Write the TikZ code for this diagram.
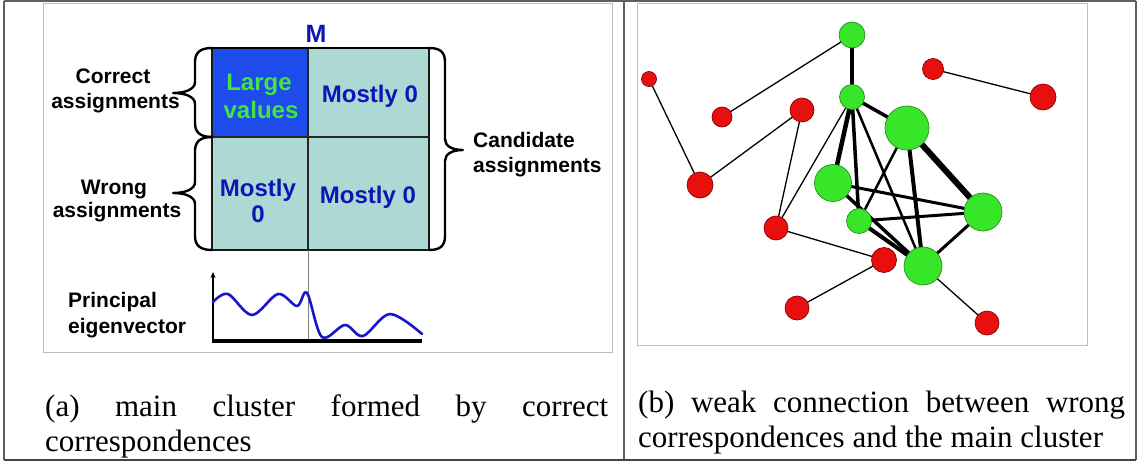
\documentclass[tikz,border=0pt]{standalone}
\usepackage{fontspec}
\setmainfont{Liberation Serif}
\setsansfont{Liberation Sans}
\usetikzlibrary{arrows.meta}
\pgfdeclarelayer{background}
\pgfsetlayers{background,main}
\definecolor{mblue}{RGB}{15,20,180}
\definecolor{cellblue}{RGB}{30,75,235}
\definecolor{cellteal}{RGB}{172,217,212}
\definecolor{lgreen}{RGB}{70,225,70}
\definecolor{gnode}{RGB}{55,230,40}
\definecolor{gline}{RGB}{40,140,30}
\definecolor{rnode}{RGB}{232,15,15}
\definecolor{rline}{RGB}{140,0,0}
\definecolor{framegray}{RGB}{190,190,190}
\definecolor{bordergray}{RGB}{95,95,95}
\definecolor{curveblue}{RGB}{25,20,205}
\begin{document}
\begin{tikzpicture}[x=1pt,y=-1pt,
  lab/.style={font=\sffamily\bfseries\fontsize{21}{25}\selectfont, inner sep=0pt, anchor=base},
  labw/.style={lab, anchor=base west},
  cell/.style={font=\sffamily\bfseries\fontsize{24}{28}\selectfont, inner sep=0pt, anchor=base, text=mblue},
  captext/.style={font=\fontsize{31}{35}\selectfont, inner sep=0pt, anchor=base west},
  gn/.style={circle, fill=gnode, draw=gline, line width=0.7pt, inner sep=0pt, minimum size=#1},
  rn/.style={circle, fill=rnode, draw=rline, line width=0.7pt, inner sep=0pt, minimum size=#1},
  weak/.style={line width=1.3pt},
  bond/.style={line width=#1},
  bracepath/.style={line width=2.4pt, line cap=round, line join=round}
]
\useasboundingbox (0,0) rectangle (1138,463);
% outer table
\draw[bordergray, line width=1.2pt] (4,1) -- (1136,1);
\draw[bordergray, line width=1.2pt] (4,1) -- (4,460);
\draw[bordergray, line width=1.2pt] (1136,1) -- (1136,460);
\draw[bordergray, line width=1.5pt] (624,1) -- (624,460);
\draw[bordergray!70!black, line width=2.5pt] (4,460) -- (1136,460);
% inner frames
\draw[framegray, line width=0.9pt] (43,3) rectangle (612,352);
\draw[framegray, line width=0.9pt] (637,3) rectangle (1087,345);

% ---------- panel (a) ----------
\fill[cellteal] (212,48) rectangle (429,250);
\fill[cellblue] (212,48) rectangle (308,137);
\draw[line width=1.5pt, black!85] (308,48) -- (308,250);
\draw[line width=1.5pt, black!85] (212,137) -- (429,137);
\draw[line width=2pt, black!90] (212,48) rectangle (429,250);
\draw[line width=2.8pt] (212,48) -- (429,48);
\draw[gray, line width=0.8pt] (308,250) -- (308,341);

\node[font=\sffamily\bfseries\fontsize{25}{28}\selectfont, text=mblue, inner sep=0pt, anchor=base] (M) at (316,42) {M};
\node[cell, text=lgreen] (large) at (259,90) {Large};
\node[cell, text=lgreen] (values) at (261,118) {values};
\node[cell] (m12) at (370,102) {Mostly 0};
\node[cell] (m21a) at (258,196) {Mostly};
\node[cell] (m21b) at (258,222) {0};
\node[cell] (m22) at (368,203) {Mostly 0};

% braces
\draw[bracepath] (212,48) .. controls (201,48) and (195,52) .. (195,62) -- (195,82)
  .. controls (195,89) and (186,93) .. (173,93)
  .. controls (186,93) and (195,97) .. (195,104) -- (195,123)
  .. controls (195,133) and (201,137) .. (212,137);
\draw[bracepath] (212,137) .. controls (201,137) and (195,141) .. (195,151) -- (195,182)
  .. controls (195,189) and (186,193) .. (173,193)
  .. controls (186,193) and (195,197) .. (195,204) -- (195,236)
  .. controls (195,246) and (201,250) .. (212,250);
\draw[bracepath] (429,48) .. controls (440,48) and (445,52) .. (445,62) -- (445,139)
  .. controls (445,146) and (452,150) .. (463,150)
  .. controls (452,150) and (445,154) .. (445,161) -- (445,236)
  .. controls (445,246) and (440,250) .. (429,250);

\node[lab] (correct) at (113,83) {Correct};
\node[lab] (assign1) at (115.5,108) {assignments};
\node[lab] (wrong) at (114,194) {Wrong};
\node[lab] (assign2) at (117,217) {assignments};
\node[labw] (cand) at (473,147) {Candidate};
\node[labw] (assign3) at (473,172) {assignments};
\node[labw] (princ) at (68,307) {Principal};
\node[labw] (eigen) at (68,333) {eigenvector};

% eigenvector plot
\draw[line width=2pt, -{Stealth[length=6pt,width=5pt]}] (213,341) -- (213,272);
\draw[line width=3.5pt] (212,341) -- (422,341);
\draw[curveblue, line width=2.6pt, line join=round, line cap=round] plot[smooth, tension=0.55] coordinates {
 (213,302) (228,294) (252,315) (278,294) (297,306) (307,293) (322,337) (345,325) (363,336) (390,314) (422,334)};

% ---------- panel (b) ----------
\node[gn=26pt] (G1) at (852,35) {};
\node[rn=15pt, minimum height=13pt] (R1) at (649,79) {};
\node[rn=21pt] (R2) at (933,69) {};
\node[rn=26pt] (R3) at (1043,97) {};
\node[rn=20pt] (R4) at (722,117) {};
\node[rn=24pt] (R5) at (802,110) {};
\node[gn=25pt] (G2) at (852,97) {};
\node[gn=44pt] (G3) at (907,128) {};
\node[rn=26pt] (R6) at (700,185) {};
\node[gn=37pt] (G4) at (833,183) {};
\node[gn=38pt] (G5) at (983,212) {};
\node[gn=25pt] (G6) at (859,221) {};
\node[rn=24pt] (R7) at (776,228) {};
\node[rn=25pt] (R8) at (884,260) {};
\node[gn=38pt] (G7) at (923,266) {};
\node[rn=24pt] (R9) at (797,308) {};
\node[rn=24pt] (R10) at (987,323) {};

\begin{pgfonlayer}{background}
\draw[weak] (R1.center) -- (R6.center);
\draw[weak] (R4.center) -- (G1.center);
\draw[weak] (R6.center) -- (R5.center);
\draw[weak] (R5.center) -- (R7.center);
\draw[weak] (G2.center) -- (R7.center);
\draw[weak] (R2.center) -- (R3.center);
\draw[weak] (R7.center) -- (R8.center);
\draw[weak] (R8.center) -- (R9.center);
\draw[weak] (G7.center) -- (R10.center);
\draw[bond=3.5pt] (G1.center) -- (G2.center);
\draw[bond=3.5pt] (G2.center) -- (G3.center);
\draw[bond=4.5pt] (G2.center) -- (G4.center);
\draw[bond=3.5pt] (G2.center) -- (G6.center);
\draw[bond=2.5pt] (G2.center) -- (G7.center);
\draw[bond=6pt] (G3.center) -- (G5.center);
\draw[bond=4pt] (G3.center) -- (G7.center);
\draw[bond=2.5pt] (G3.center) -- (G6.center);
\draw[bond=3pt] (G4.center) -- (G5.center);
\draw[bond=3.5pt] (G4.center) -- (G7.center);
\draw[bond=3pt] (G6.center) -- (G5.center);
\draw[bond=4pt] (G6.center) -- (G7.center);
\draw[bond=3pt] (G5.center) -- (G7.center);
\end{pgfonlayer}

% captions
\node[captext] (capa1) at (45,416) {\makebox[563pt][s]{(a) main cluster formed by correct}};
\node[captext] (capa2) at (45,451) {correspondences};
\node[captext] (capb1) at (638,412) {\makebox[487pt][s]{(b) weak connection between wrong}};
\node[captext] (capb2) at (638,447) {correspondences and the main cluster};
\end{tikzpicture}
\end{document}
